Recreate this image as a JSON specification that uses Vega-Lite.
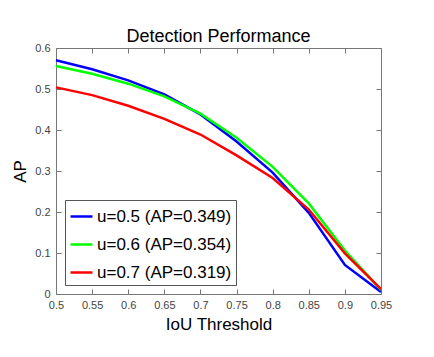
{
  "$schema": "https://vega.github.io/schema/vega-lite/v6.json",
  "width": 325,
  "height": 246,
  "autosize": {"type": "none"},
  "padding": {"left": 56, "top": 48, "right": 53, "bottom": 63},
  "background": "white",
  "title": {"text": "Detection Performance", "fontSize": 18, "font": "Liberation Sans", "fontWeight": "normal", "color": "#000", "offset": -4},
  "config": {
    "font": "Liberation Sans",
    "view": {"stroke": null},
    "axis": {"labelFont": "Liberation Sans", "labelFontSize": 11, "labelColor": "#444", "titleFont": "Liberation Sans", "titleFontWeight": "normal", "titleColor": "#000", "domainColor": "#777", "tickColor": "#777", "grid": false}
  },
  "data": {"values": [
    {"iou": 0.5, "ap": 0.570, "s": "u=0.5 (AP=0.349)"},
    {"iou": 0.55, "ap": 0.548, "s": "u=0.5 (AP=0.349)"},
    {"iou": 0.6, "ap": 0.521, "s": "u=0.5 (AP=0.349)"},
    {"iou": 0.65, "ap": 0.487, "s": "u=0.5 (AP=0.349)"},
    {"iou": 0.7, "ap": 0.438, "s": "u=0.5 (AP=0.349)"},
    {"iou": 0.75, "ap": 0.372, "s": "u=0.5 (AP=0.349)"},
    {"iou": 0.8, "ap": 0.296, "s": "u=0.5 (AP=0.349)"},
    {"iou": 0.85, "ap": 0.198, "s": "u=0.5 (AP=0.349)"},
    {"iou": 0.9, "ap": 0.071, "s": "u=0.5 (AP=0.349)"},
    {"iou": 0.95, "ap": 0.005, "s": "u=0.5 (AP=0.349)"},
    {"iou": 0.5, "ap": 0.556, "s": "u=0.6 (AP=0.354)"},
    {"iou": 0.55, "ap": 0.537, "s": "u=0.6 (AP=0.354)"},
    {"iou": 0.6, "ap": 0.513, "s": "u=0.6 (AP=0.354)"},
    {"iou": 0.65, "ap": 0.482, "s": "u=0.6 (AP=0.354)"},
    {"iou": 0.7, "ap": 0.440, "s": "u=0.6 (AP=0.354)"},
    {"iou": 0.75, "ap": 0.381, "s": "u=0.6 (AP=0.354)"},
    {"iou": 0.8, "ap": 0.310, "s": "u=0.6 (AP=0.354)"},
    {"iou": 0.85, "ap": 0.221, "s": "u=0.6 (AP=0.354)"},
    {"iou": 0.9, "ap": 0.106, "s": "u=0.6 (AP=0.354)"},
    {"iou": 0.95, "ap": 0.010, "s": "u=0.6 (AP=0.354)"},
    {"iou": 0.5, "ap": 0.504, "s": "u=0.7 (AP=0.319)"},
    {"iou": 0.55, "ap": 0.485, "s": "u=0.7 (AP=0.319)"},
    {"iou": 0.6, "ap": 0.459, "s": "u=0.7 (AP=0.319)"},
    {"iou": 0.65, "ap": 0.427, "s": "u=0.7 (AP=0.319)"},
    {"iou": 0.7, "ap": 0.389, "s": "u=0.7 (AP=0.319)"},
    {"iou": 0.75, "ap": 0.338, "s": "u=0.7 (AP=0.319)"},
    {"iou": 0.8, "ap": 0.283, "s": "u=0.7 (AP=0.319)"},
    {"iou": 0.85, "ap": 0.206, "s": "u=0.7 (AP=0.319)"},
    {"iou": 0.9, "ap": 0.099, "s": "u=0.7 (AP=0.319)"},
    {"iou": 0.95, "ap": 0.012, "s": "u=0.7 (AP=0.319)"}
  ]},
  "layer": [
    {
      "mark": {"type": "line", "strokeWidth": 2.5},
      "encoding": {
        "x": {"field": "iou", "type": "quantitative", "scale": {"domain": [0.5, 0.95], "nice": false, "zero": false},
              "axis": {"orient": "bottom", "title": "IoU Threshold", "titleFontSize": 17, "format": ".2~f", "values": [0.5,0.55,0.6,0.65,0.7,0.75,0.8,0.85,0.9,0.95], "tickSize": -5, "labelPadding": 10, "titlePadding": 6, "labelFlush": false}},
        "y": {"field": "ap", "type": "quantitative", "scale": {"domain": [0, 0.6], "nice": false},
              "axis": {"orient": "left", "title": "AP", "titleFontSize": 17, "format": ".1~f", "values": [0,0.1,0.2,0.3,0.4,0.5,0.6], "tickSize": -5, "labelPadding": 11, "titlePadding": 5, "labelFlush": false}},
        "color": {"field": "s", "type": "nominal",
                  "scale": {"domain": ["u=0.5 (AP=0.349)", "u=0.6 (AP=0.354)", "u=0.7 (AP=0.319)"], "range": ["#0000ff", "#00ff00", "#ff0000"]},
                  "legend": {"title": null, "orient": "bottom-left", "offset": 9, "strokeColor": "#555", "fillColor": "white", "padding": 4, "labelFontSize": 17, "labelColor": "#000", "labelFont": "Liberation Sans", "symbolType": "stroke", "symbolStrokeWidth": 2.5, "symbolSize": 484, "rowPadding": 7, "labelOffset": 3}}
      }
    },
    {
      "mark": {"type": "line", "strokeOpacity": 0},
      "encoding": {
        "x": {"field": "iou", "type": "quantitative", "axis": {"orient": "top", "title": null, "labels": false, "values": [0.5,0.55,0.6,0.65,0.7,0.75,0.8,0.85,0.9,0.95], "tickSize": -5}},
        "y": {"field": "ap", "type": "quantitative", "axis": {"orient": "right", "title": null, "labels": false, "values": [0,0.1,0.2,0.3,0.4,0.5,0.6], "tickSize": -5}},
        "detail": {"field": "s", "type": "nominal"}
      }
    }
  ],
  "resolve": {"axis": {"x": "independent", "y": "independent"}}
}
